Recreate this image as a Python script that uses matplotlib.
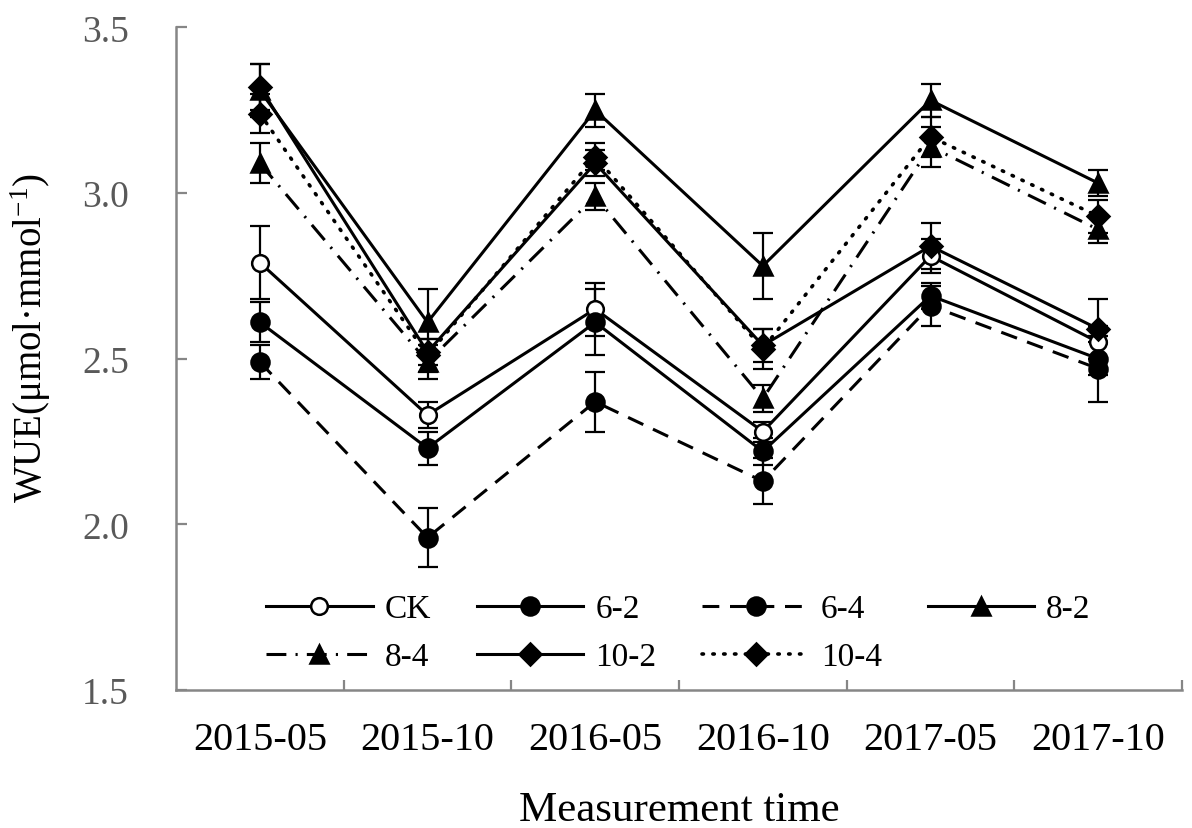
import matplotlib
matplotlib.use("Agg")
import matplotlib.pyplot as plt
import numpy as np

# --- dados ---
periodos = ["2015-05", "2015-10", "2016-05", "2016-10", "2017-05", "2017-10"]

ck = [2.79, 2.33, 2.65, 2.28, 2.81, 2.55]
t6_2 = [2.61, 2.23, 2.61, 2.22, 2.69, 2.50]
t6_4 = [2.49, 1.96, 2.37, 2.13, 2.66, 2.47]
t8_2 = [3.31, 2.61, 3.25, 2.78, 3.28, 3.03]
t8_4 = [3.09, 2.49, 2.99, 2.38, 3.14, 2.89]
t10_2 = [3.32, 2.52, 3.09, 2.54, 2.84, 2.59]
t10_4 = [3.24, 2.51, 3.11, 2.53, 3.17, 2.93]

err_ck = [0.11, 0.04, 0.08, 0.03, 0.05, 0.05]
err_6_2 = [0.06, 0.05, 0.10, 0.04, 0.04, 0.05]
err_6_4 = [0.05, 0.09, 0.09, 0.07, 0.06, 0.10]
err_8_2 = [0.08, 0.10, 0.05, 0.10, 0.05, 0.04]
err_8_4 = [0.06, 0.05, 0.04, 0.04, 0.06, 0.04]
err_10_2 = [0.07, 0.04, 0.04, 0.05, 0.07, 0.09]
err_10_4 = [0.06, 0.05, 0.04, 0.06, 0.06, 0.05]

SERIF = "Liberation Serif"
plt.rcParams["font.family"] = SERIF
plt.rcParams["mathtext.fontset"] = "custom"
plt.rcParams["mathtext.rm"] = SERIF
plt.rcParams["mathtext.it"] = SERIF + ":italic"

GRAY = "#868686"
LW = 2.2

# label, valores, erros, marcador, face, estilo, tamanho
series = [
    ("CK", ck, err_ck, "o", "white", "-", 12),
    ("6-2", t6_2, err_6_2, "o", "black", "-", 13),
    ("6-4", t6_4, err_6_4, "o", "black", (0, (5.5, 3.5)), 13),
    ("8-2", t8_2, err_8_2, "^", "black", "-", 13),
    ("8-4", t8_4, err_8_4, "^", "black", (0, (6.5, 3, 0.7, 3)), 13),
    ("10-2", t10_2, err_10_2, "D", "black", "-", 11),
    ("10-4", t10_4, err_10_4, "D", "black", (0, (0.4, 2.6)), 11),
]

fig = plt.figure(figsize=(11.92, 8.29), dpi=100)
ax = fig.add_axes([176 / 1192, 138 / 829, 1006 / 1192, 662.6 / 829])
x = np.arange(len(periodos))

linhas = {}
for nome, vals, errs, mk, face, ls, ms in series:
    ax.errorbar(x, vals, yerr=errs, fmt="none", ecolor="black",
                elinewidth=1.6, capsize=7, capthick=1.6, zorder=2)
    pontilhado = nome == "10-4"
    (ln,) = ax.plot(x, vals, color="black", linestyle=ls,
                    linewidth=2.6 if pontilhado else LW,
                    marker=mk, markersize=ms, markerfacecolor=face,
                    markeredgecolor="black", markeredgewidth=1.8,
                    dash_capstyle="round" if pontilhado else "butt",
                    zorder=3, label=nome)
    linhas[nome] = ln

ax.set_xlim(-0.5, len(periodos) - 0.5)
ax.set_ylim(1.5, 3.5)
ax.set_yticks([1.5, 2.0, 2.5, 3.0, 3.5])
ax.set_yticklabels(["1.5", "2.0", "2.5", "3.0", "3.5"])
ax.set_xticks(x)
ax.set_xticklabels(periodos)
ax.set_xticks(np.arange(0.5, len(periodos), 1.0), minor=True)

ax.tick_params(axis="x", which="major", length=0, labelsize=29, pad=22,
               labelcolor="black")
ax.tick_params(axis="x", which="minor", direction="in", length=7,
               width=1.6, color=GRAY)
ax.tick_params(axis="y", direction="in", length=8, width=1.6, color=GRAY,
               labelsize=27, labelcolor="#595959", pad=34)

for s in ["top", "right"]:
    ax.spines[s].set_visible(False)
for s in ["left", "bottom"]:
    ax.spines[s].set_color(GRAY)
    ax.spines[s].set_linewidth(1.8)

ax.set_xlabel("Measurement time", fontsize=31, labelpad=24)
ax.set_ylabel("WUE(μmol·mmol$^{-1}$)", fontsize=28)
ax.yaxis.set_label_coords(-0.122, 0.533)

ordem = ["CK", "8-4", "6-2", "10-2", "6-4", "10-4", "8-2"]
ax.legend([linhas[n] for n in ordem], ordem, ncol=4, frameon=False,
          loc="upper left", bbox_to_anchor=(0.0895, 0.145),
          prop={"family": SERIF, "size": 24}, handlelength=3.2,
          handletextpad=0.36, columnspacing=1.37, labelspacing=0.52,
          borderpad=0, borderaxespad=0)

fig.savefig("out.png", dpi=100)
